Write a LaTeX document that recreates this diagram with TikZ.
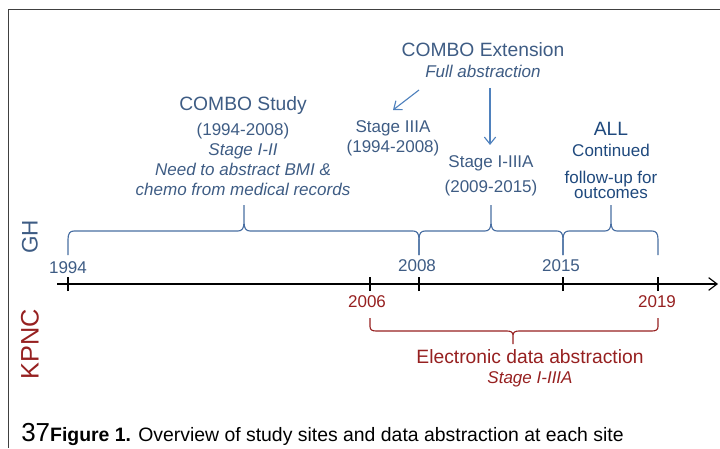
\documentclass[tikz,border=0pt]{standalone}
\usepackage{fontspec}
\setmainfont{Liberation Sans}
\usetikzlibrary{arrows.meta}
\definecolor{ghtext}{RGB}{62,92,132}
\definecolor{ghdark}{RGB}{31,73,125}
\definecolor{ghline}{RGB}{72,110,162}
\definecolor{gharrow}{RGB}{79,129,189}
\definecolor{kpred}{RGB}{150,32,32}
\newcommand{\fbody}{\fontsize{12.1}{14.2}\selectfont}
\newcommand{\ftitle}{\fontsize{13.7}{16}\selectfont}
% brace: [style]{x1}{tip x}{x2}{y}{end offset}{tip offset}
\newcommand{\tlbrace}[7][]{%
  \draw[#1] (#2,{#5+(#6)}) -- (#2,{#5+0.35*(#6)})
    .. controls (#2,{#5+0.1*(#6)}) and ({#2+2},#5) .. ({#2+6},#5)
    -- ({#3-6},#5) .. controls ({#3-2},#5) and (#3,{#5+0.1*(#7)}) .. (#3,{#5+0.35*(#7)})
    -- (#3,{#5+(#7)})
    (#3,{#5+0.35*(#7)}) .. controls (#3,{#5+0.1*(#7)}) and ({#3+2},#5) .. ({#3+6},#5)
    -- ({#4-6},#5) .. controls ({#4-2},#5) and (#4,{#5+0.1*(#6)}) .. (#4,{#5+0.35*(#6)})
    -- (#4,{#5+(#6)});}
\tikzset{
  ghbrace/.style={ghline,line width=0.8pt},
  kpbrace/.style={kpred,line width=0.8pt},
  pointer/.style={gharrow,line width=0.8pt,-{Straight Barb[length=5pt,width=8pt]}},
  year/.style={font=\fbody,inner sep=0pt}
}
\begin{document}
\begin{tikzpicture}[x=0.025cm,y=0.025cm]
  \useasboundingbox (0,0) rectangle (720,448);
  \draw[black!75,line width=1.4pt] (8.5,0) -- (8.5,438.5) -- (720,438.5);

  % time line
  \coordinate (start) at (57,164);
  \coordinate (end) at (718,164);
  \draw[line width=0.8pt,-{Straight Barb[length=6pt,width=9pt]}] (start) -- (end);
  \foreach \x in {68,370,419,563,658}
    \draw[line width=0.8pt] (\x,157) -- (\x,171);

  % sites
  \node[rotate=90,ghtext,font=\fontsize{16}{18}\selectfont] (gh) at (30,211) {GH};
  \node[rotate=90,kpred,font=\fontsize{18}{20}\selectfont] (kpnc) at (30,104) {KPNC};

  % years
  \node[year,ghtext] (y94) at (68,180) {1994};
  \node[year,ghtext] (y08) at (417,182) {2008};
  \node[year,ghtext] (y15) at (561,182) {2015};
  \node[year,kpred] (y06) at (367,146) {2006};
  \node[year,kpred] (y19) at (657,146) {2019};

  % GH braces
  \tlbrace[ghbrace]{68}{244}{419}{217}{-24}{26}
  \tlbrace[ghbrace]{419}{491}{563}{217}{-24}{26}
  \tlbrace[ghbrace]{563}{611}{658}{217}{-24}{26}

  % KPNC brace
  \tlbrace[kpbrace]{370}{513}{658}{117}{13}{-13}

  % GH text
  \node[ghtext,font=\ftitle] (ext) at (483,398) {COMBO Extension};
  \node[ghtext,font=\fbody\itshape] (full) at (483,377) {Full abstraction};
  \node[ghtext,font=\ftitle] (study) at (243,342) {COMBO Study};
  \node[ghtext,align=center,font=\fontsize{12.1}{14.2}\selectfont] (studyb) at (243,289)
    {(1994-2008)\\\textit{Stage I-II}\\\textit{Need to abstract BMI \&}\\\textit{chemo from medical records}};
  \node[ghtext,align=center,font=\fontsize{12.1}{14.2}\selectfont] (iiia) at (393,310)
    {Stage IIIA\\(1994-2008)};
  \node[ghtext,align=center,font=\fontsize{12.1}{17.8}\selectfont] (iiiia) at (491,272.5)
    {Stage I-IIIA\\(2009-2015)};
  \node[ghdark,font=\ftitle] (all) at (611,319) {ALL};
  \node[ghdark,font=\fbody] (cont) at (611,298) {Continued};
  \node[ghdark,align=center,font=\fontsize{12.1}{10.7}\selectfont] (fup) at (611,263.5)
    {follow-up for\\outcomes};

  % pointers
  \coordinate (p1) at (419,358);
  \coordinate (p2) at (393,338);
  \coordinate (p3) at (490,360);
  \coordinate (p4) at (490,303);
  \draw[pointer] (p1) -- (p2);
  \draw[pointer] (p3) -- (p4);

  % KPNC text
  \node[kpred,font=\ftitle] (elec) at (530,91) {Electronic data abstraction};
  \node[kpred,font=\fbody\itshape] (stg) at (530,69) {Stage I-IIIA};

  % caption
  \node[anchor=base west,inner sep=0pt] (cap) at (21,7)
    {{\fontsize{18.5}{20}\selectfont 37}\fontsize{13.8}{16}\selectfont\textbf{Figure 1.} Overview of study sites and data abstraction at each site};
\end{tikzpicture}
\end{document}
